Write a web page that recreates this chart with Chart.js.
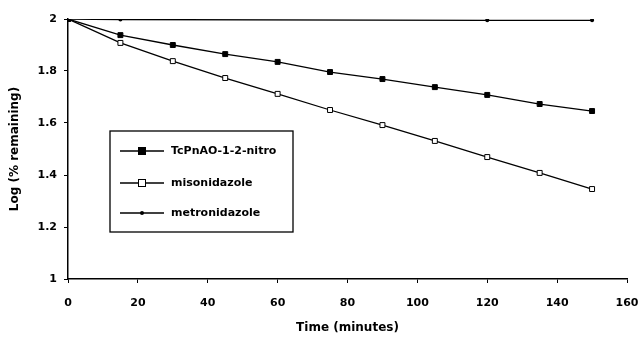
<!DOCTYPE html>
<html>
<head>
<meta charset="utf-8">
<script src="https://cdn.jsdelivr.net/npm/chart.js@4"></script>
<style>
  html, body { margin: 0; padding: 0; background: #fff; }
  #wrap { width: 638px; height: 339px; }
</style>
</head>
<body>
<div id="wrap"><canvas id="grafico"></canvas></div>
<script>
// datos
var tiempos = [0, 15, 30, 45, 60, 75, 90, 105, 120, 135, 150];
var tcpnao = [2.0, 1.938, 1.90, 1.865, 1.835, 1.796, 1.769, 1.738, 1.708, 1.673, 1.646];
var misonidazol = [2.0, 1.908, 1.838, 1.773, 1.712, 1.65, 1.592, 1.531, 1.469, 1.408, 1.346];
var tiemposMetro = [0, 15, 120, 150];
var metronidazol = [2.0, 1.998, 1.995, 1.995];
var ticksX = [0, 20, 40, 60, 80, 100, 120, 140, 160];
var ticksY = [1, 1.2, 1.4, 1.6, 1.8, 2];

var fuente = "'DejaVu Sans', sans-serif";

function puntos(xs, ys) {
    return xs.map(function(x, i) { return { x: x, y: ys[i] }; });
}

// leyenda dentro del area del grafico, con borde
var leyendaCaja = {
    id: 'leyendaCaja',
    afterDraw: function(chart) {
        var ctx = chart.ctx;
        var x0 = 110, y0 = 131, w = 183, h = 101;
        ctx.save();
        ctx.fillStyle = '#fff';
        ctx.fillRect(x0, y0, w, h);
        ctx.strokeStyle = '#000';
        ctx.lineWidth = 1.3;
        ctx.strokeRect(x0, y0, w, h);
        var filas = [151, 183, 213];
        chart.data.datasets.forEach(function(ds, i) {
            var y = filas[i];
            ctx.strokeStyle = '#000';
            ctx.lineWidth = 1.3;
            ctx.beginPath();
            ctx.moveTo(120, y);
            ctx.lineTo(164, y);
            ctx.stroke();
            var r = ds.pointRadius;
            ctx.fillStyle = ds.pointBackgroundColor;
            ctx.lineWidth = 1;
            if (ds.pointStyle === 'rect') {
                ctx.fillRect(142 - r, y - r, 2 * r, 2 * r);
                ctx.strokeRect(142 - r, y - r, 2 * r, 2 * r);
            } else {
                ctx.beginPath();
                ctx.arc(142, y, r, 0, Math.PI * 2);
                ctx.fill();
            }
            ctx.fillStyle = '#000';
            ctx.font = 'bold 11px ' + fuente;
            ctx.textBaseline = 'middle';
            ctx.fillText(ds.label, 171, y);
        });
        ctx.restore();
    }
};

new Chart(document.getElementById('grafico'), {
    type: 'line',
    data: {
        datasets: [{
            label: 'TcPnAO-1-2-nitro',
            data: puntos(tiempos, tcpnao),
            borderColor: '#000',
            borderWidth: 1.3,
            pointStyle: 'rect',
            pointRadius: 3.5,
            pointBackgroundColor: '#000',
            pointBorderColor: '#000',
            pointBorderWidth: 1
        }, {
            label: 'misonidazole',
            data: puntos(tiempos, misonidazol),
            borderColor: '#000',
            borderWidth: 1.3,
            pointStyle: 'rect',
            pointRadius: 3.5,
            pointBackgroundColor: '#fff',
            pointBorderColor: '#000',
            pointBorderWidth: 1
        }, {
            label: 'metronidazole',
            data: puntos(tiemposMetro, metronidazol),
            borderColor: '#000',
            borderWidth: 1.3,
            pointStyle: 'circle',
            pointRadius: 2,
            pointBackgroundColor: '#000',
            pointBorderColor: '#000',
            pointBorderWidth: 0
        }]
    },
    options: {
        responsive: true,
        maintainAspectRatio: false,
        animation: false,
        layout: { padding: { top: 19, right: 0, left: 0, bottom: 0 } },
        plugins: {
            legend: { display: false },
            tooltip: { enabled: false }
        },
        scales: {
            x: {
                type: 'linear',
                min: 0,
                max: 160,
                afterFit: function(scale) {
                    scale.height = 60;
                    scale.paddingRight = 11;
                },
                afterBuildTicks: function(scale) {
                    scale.ticks = ticksX.map(function(v) { return { value: v }; });
                },
                border: { color: '#000', width: 1.5 },
                grid: { drawOnChartArea: false, color: '#000', tickLength: 4 },
                ticks: {
                    color: '#000',
                    padding: 14,
                    maxRotation: 0,
                    font: { family: fuente, size: 11, weight: 'bold' }
                },
                title: {
                    display: true,
                    text: 'Time (minutes)',
                    color: '#000',
                    padding: { top: 0 },
                    font: { family: fuente, size: 12, weight: 'bold' }
                }
            },
            y: {
                type: 'linear',
                min: 1,
                max: 2,
                afterFit: function(scale) { scale.width = 68; },
                afterBuildTicks: function(scale) {
                    scale.ticks = ticksY.map(function(v) { return { value: v }; });
                },
                border: { color: '#000', width: 1.5 },
                grid: { drawOnChartArea: false, color: '#000', tickLength: 4 },
                ticks: {
                    color: '#000',
                    padding: 7,
                    font: { family: fuente, size: 11, weight: 'bold' },
                    callback: function(v) { return v; }
                },
                title: {
                    display: true,
                    text: 'Log (% remaining)',
                    color: '#000',
                    padding: { top: 8, bottom: 4 },
                    font: { family: fuente, size: 12, weight: 'bold' }
                }
            }
        }
    },
    plugins: [leyendaCaja]
});
</script>
</body>
</html>
